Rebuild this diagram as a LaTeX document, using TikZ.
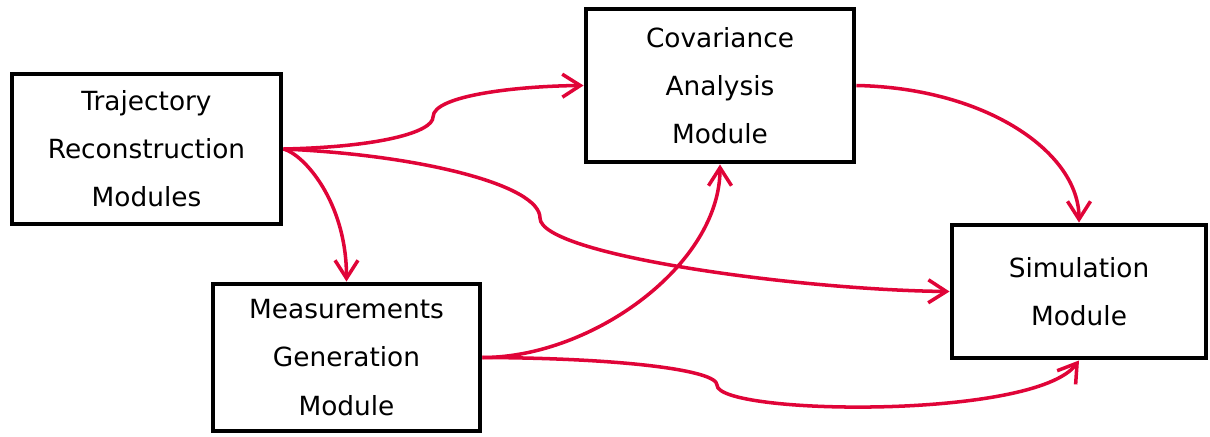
\documentclass[tikz,border=0pt]{standalone}
\usepackage{fontspec}
\setmainfont{DejaVu Sans}
\usetikzlibrary{arrows.meta,positioning}
\definecolor{linkred}{RGB}{224,4,56}

\begin{document}
\begin{tikzpicture}[
  font=\fontsize{15}{27.4}\selectfont,
  >={Straight Barb[length=3.6mm,width=4.6mm]},
  module/.style={rectangle,draw=black,line width=2.8pt,fill=white,
    align=center,inner sep=2pt},
  link/.style={->,line width=2pt,linkred}
]
\useasboundingbox (0,0) rectangle (24.2,-8.72);

% Modules
\node[module,minimum width=5.38cm,minimum height=3.0cm] (traj) at (2.93,-2.98)
  {Trajectory\\Reconstruction\\Modules};
\node[module,minimum width=5.36cm,minimum height=3.06cm] (cov) at (14.40,-1.71)
  {Covariance\\Analysis\\Module};
\node[module,minimum width=5.34cm,minimum height=2.94cm] (meas) at (6.93,-7.15)
  {Measurements\\Generation\\Module};
\node[module,minimum width=5.08cm,minimum height=2.66cm] (sim) at (21.58,-5.83)
  {Simulation\\Module};

% Links
\draw[link] (traj.east) .. controls (7.6,-2.94) and (8.66,-2.64) .. (8.66,-2.34)
  .. controls (8.66,-1.9) and (10.4,-1.72) .. (cov.west);
\draw[link] (traj.east) .. controls (8.4,-3.1) and (10.8,-3.7) .. (10.8,-4.36)
  .. controls (10.8,-5.1) and (16,-5.8) .. (sim.west);
\draw[link] (traj.east) .. controls +(0.4,-0.1) and +(0,1.6) .. (meas.north);
\draw[link] (meas.east) .. controls +(2.2,0) and +(0,-2) .. (cov.south);
\draw[link] (meas.east) .. controls (12.4,-7.16) and (14.34,-7.4) .. (14.34,-7.7)
  .. controls (14.34,-8.3) and (20.7,-8.4) .. (sim.south);
\draw[link] (cov.east) .. controls +(2.6,-0.05) and +(0,1.4) .. (sim.north);

\end{tikzpicture}
\end{document}
